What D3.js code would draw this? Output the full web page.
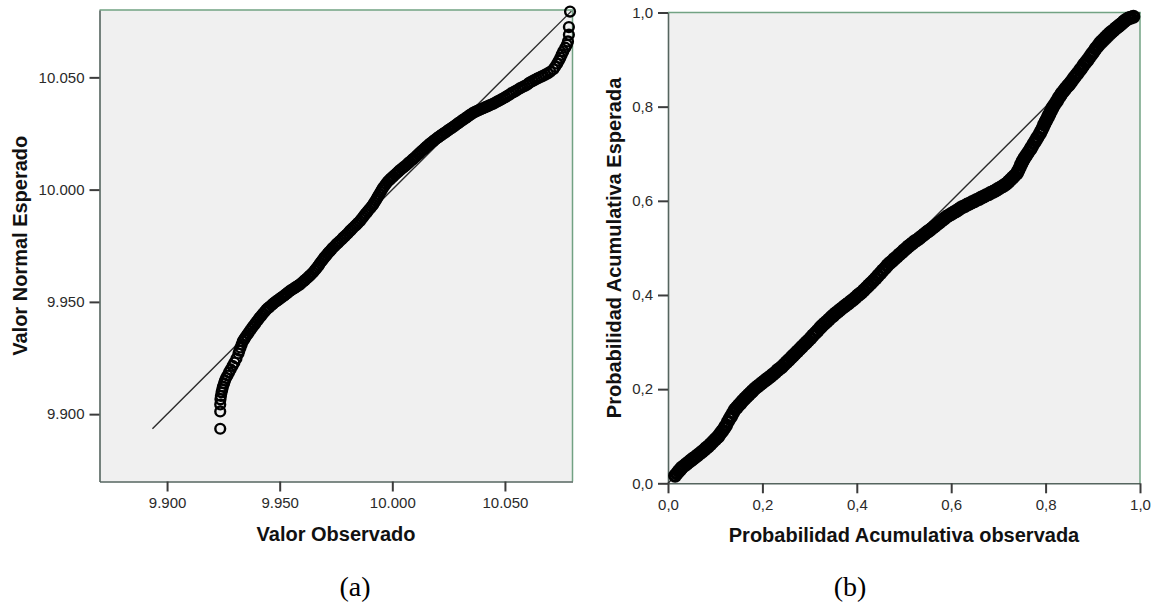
<!DOCTYPE html>
<html><head><meta charset="utf-8">
<script src="https://cdn.jsdelivr.net/npm/d3@7"></script>
<style>body{margin:0;background:#fff} svg{display:block}</style>
</head><body>
<svg id="c" width="1154" height="606"></svg>
<script>
// ---- Data: (a) Normal Q-Q plot : [valor observado, valor normal esperado]
const qqPoints = [
[9.9236,9.8935],[9.9236,9.9012],[9.9236,9.9043],[9.9237,9.9066],[9.9239,9.9081],[9.9242,9.9097],[9.9245,9.9110],[9.9248,9.9123],[9.9253,9.9137],[9.9257,9.9150],[9.9262,9.9161],[9.9268,9.9172],[9.9275,9.9186],[9.9282,9.9199],[9.9291,9.9215],[9.9299,9.9230],[9.9308,9.9248],[9.9317,9.9270],[9.9321,9.9283],[9.9326,9.9297],[9.9331,9.9310],
[9.9336,9.9324],[9.9342,9.9333],[9.9347,9.9341],
[9.9353,9.9350],[9.9360,9.9360],[9.9367,9.9370],[9.9374,9.9380],
[9.9381,9.9390],[9.9389,9.9400],[9.9396,9.9410],[9.9404,9.9420],
[9.9411,9.9430],[9.9419,9.9439],[9.9426,9.9448],[9.9434,9.9457],
[9.9441,9.9466],[9.9448,9.9472],[9.9455,9.9478],[9.9463,9.9485],[9.9470,9.9491],
[9.9477,9.9497],[9.9484,9.9502],[9.9492,9.9508],[9.9499,9.9513],[9.9507,9.9519],
[9.9514,9.9524],[9.9521,9.9529],[9.9528,9.9535],[9.9535,9.9540],[9.9542,9.9546],
[9.9549,9.9551],[9.9557,9.9556],[9.9565,9.9561],[9.9573,9.9567],[9.9581,9.9572],
[9.9589,9.9577],[9.9597,9.9584],[9.9605,9.9591],[9.9612,9.9597],
[9.9620,9.9604],[9.9627,9.9611],[9.9634,9.9617],[9.9641,9.9624],
[9.9648,9.9631],[9.9655,9.9640],[9.9662,9.9648],
[9.9669,9.9657],[9.9675,9.9665],[9.9680,9.9673],[9.9686,9.9681],
[9.9692,9.9689],[9.9699,9.9698],[9.9706,9.9706],
[9.9713,9.9715],[9.9719,9.9722],[9.9725,9.9728],[9.9731,9.9735],
[9.9737,9.9742],[9.9745,9.9749],[9.9752,9.9757],[9.9760,9.9764],
[9.9767,9.9771],[9.9775,9.9778],[9.9782,9.9786],[9.9790,9.9793],
[9.9797,9.9800],[9.9804,9.9807],[9.9811,9.9815],[9.9818,9.9822],
[9.9825,9.9829],[9.9833,9.9837],[9.9841,9.9844],[9.9848,9.9852],
[9.9856,9.9859],[9.9862,9.9868],[9.9869,9.9876],[9.9875,9.9885],
[9.9882,9.9893],[9.9889,9.9901],[9.9895,9.9909],[9.9902,9.9917],[9.9908,9.9925],
[9.9915,9.9933],[9.9920,9.9942],[9.9926,9.9951],[9.9931,9.9960],
[9.9936,9.9969],[9.9942,9.9979],[9.9948,9.9989],[9.9953,9.9998],
[9.9959,10.0008],[9.9966,10.0017],[9.9973,10.0027],
[9.9980,10.0036],[9.9986,10.0042],[9.9992,10.0048],[9.9998,10.0053],
[10.0004,10.0059],[10.0012,10.0066],[10.0019,10.0073],[10.0027,10.0080],
[10.0034,10.0087],[10.0042,10.0093],[10.0049,10.0099],[10.0057,10.0105],
[10.0064,10.0111],[10.0071,10.0118],[10.0078,10.0124],[10.0086,10.0131],
[10.0093,10.0137],[10.0101,10.0144],[10.0108,10.0151],[10.0116,10.0158],
[10.0123,10.0165],[10.0130,10.0172],[10.0138,10.0178],[10.0145,10.0185],[10.0152,10.0192],[10.0160,10.0198],
[10.0167,10.0205],[10.0175,10.0211],[10.0183,10.0217],[10.0190,10.0223],
[10.0198,10.0229],[10.0205,10.0234],[10.0212,10.0239],[10.0219,10.0244],
[10.0226,10.0249],[10.0234,10.0254],[10.0241,10.0259],[10.0249,10.0265],[10.0256,10.0270],[10.0264,10.0275],
[10.0271,10.0280],[10.0278,10.0285],[10.0286,10.0291],[10.0293,10.0296],[10.0300,10.0301],[10.0308,10.0307],
[10.0315,10.0312],[10.0323,10.0317],[10.0330,10.0322],[10.0338,10.0328],[10.0345,10.0333],[10.0353,10.0338],
[10.0360,10.0343],[10.0369,10.0347],[10.0378,10.0351],[10.0386,10.0355],[10.0395,10.0359],
[10.0404,10.0363],[10.0413,10.0367],[10.0422,10.0371],[10.0431,10.0375],[10.0440,10.0379],
[10.0449,10.0383],[10.0458,10.0388],[10.0467,10.0393],[10.0475,10.0397],[10.0484,10.0402],
[10.0493,10.0407],[10.0502,10.0412],[10.0511,10.0418],[10.0520,10.0423],[10.0529,10.0429],
[10.0538,10.0434],[10.0548,10.0440],[10.0558,10.0446],
[10.0568,10.0452],[10.0578,10.0457],[10.0588,10.0462],
[10.0598,10.0467],[10.0605,10.0473],
[10.0612,10.0478],[10.0622,10.0483],[10.0632,10.0489],
[10.0642,10.0494],[10.0651,10.0498],[10.0661,10.0503],[10.0670,10.0507],[10.0679,10.0512],[10.0690,10.0518],[10.0701,10.0525],[10.0715,10.0536],[10.0723,10.0547],[10.0732,10.0561],[10.0739,10.0574],[10.0746,10.0587],[10.0752,10.0601],[10.0759,10.0616],[10.0768,10.0632],[10.0775,10.0645],[10.0780,10.0660],[10.0784,10.0690],[10.0784,10.0724],[10.0789,10.0793]
];
const qqDomain = [9.870, 10.080];
const qqTicks = [9.900, 9.950, 10.000, 10.050];
const qqLineEnds = [9.8935, 10.0795];
const qqLabels = {x: "Valor Observado", y: "Valor Normal Esperado", caption: "(a)"};

// ---- Data: (b) Normal P-P plot : [probabilidad acumulativa observada, esperada]
const ppPoints = [
[0.015,0.016],[0.019,0.021],[0.023,0.026],[0.026,0.029],
[0.029,0.033],[0.034,0.037],[0.039,0.041],[0.044,0.045],[0.049,0.049],[0.053,0.052],
[0.057,0.055],[0.062,0.059],[0.067,0.063],[0.072,0.067],[0.077,0.071],[0.081,0.075],
[0.085,0.078],[0.090,0.083],[0.095,0.088],[0.100,0.093],[0.104,0.097],
[0.107,0.100],[0.111,0.106],[0.115,0.111],
[0.120,0.118],[0.123,0.123],[0.127,0.131],
[0.131,0.138],[0.134,0.143],[0.138,0.150],
[0.142,0.157],[0.146,0.161],[0.150,0.166],[0.154,0.170],[0.158,0.175],
[0.163,0.180],[0.167,0.184],[0.171,0.188],[0.175,0.192],[0.179,0.196],
[0.184,0.201],[0.189,0.205],[0.194,0.209],[0.199,0.213],[0.204,0.217],[0.208,0.220],
[0.212,0.223],[0.217,0.227],[0.222,0.231],[0.227,0.235],[0.232,0.240],[0.236,0.243],
[0.241,0.247],[0.246,0.252],[0.251,0.257],[0.256,0.262],[0.261,0.267],[0.265,0.271],
[0.269,0.275],[0.274,0.280],[0.279,0.285],[0.284,0.290],[0.289,0.295],[0.293,0.299],
[0.297,0.303],[0.302,0.308],[0.307,0.314],[0.312,0.319],[0.317,0.324],[0.322,0.330],
[0.326,0.334],[0.331,0.339],[0.336,0.343],[0.341,0.348],[0.346,0.353],[0.350,0.356],
[0.354,0.360],[0.359,0.364],[0.364,0.368],[0.369,0.372],[0.374,0.376],[0.378,0.379],
[0.382,0.382],[0.387,0.386],[0.392,0.390],[0.397,0.394],[0.402,0.399],[0.406,0.402],
[0.410,0.405],[0.415,0.410],[0.420,0.415],[0.425,0.420],[0.430,0.425],[0.435,0.430],
[0.440,0.435],[0.445,0.441],[0.450,0.446],[0.455,0.452],[0.460,0.457],[0.465,0.463],
[0.470,0.468],[0.475,0.472],[0.480,0.477],[0.485,0.481],[0.490,0.486],[0.495,0.490],[0.500,0.495],[0.505,0.499],[0.509,0.503],
[0.513,0.506],[0.518,0.510],[0.523,0.514],[0.528,0.517],[0.533,0.521],[0.538,0.525],[0.543,0.529],[0.548,0.533],[0.551,0.535],
[0.555,0.538],[0.560,0.542],[0.565,0.546],[0.570,0.550],[0.575,0.554],[0.580,0.558],[0.585,0.562],
[0.590,0.566],[0.595,0.569],[0.600,0.572],[0.605,0.575],[0.610,0.578],[0.615,0.581],
[0.619,0.584],[0.624,0.587],[0.629,0.589],[0.634,0.592],[0.639,0.594],[0.644,0.597],[0.649,0.599],
[0.654,0.602],[0.659,0.604],[0.664,0.607],[0.669,0.609],[0.674,0.612],[0.679,0.614],[0.684,0.617],
[0.689,0.619],[0.694,0.622],[0.699,0.625],[0.704,0.628],[0.709,0.631],[0.714,0.634],
[0.718,0.637],[0.722,0.641],[0.726,0.645],[0.730,0.649],[0.734,0.653],
[0.739,0.658],[0.742,0.664],[0.745,0.670],[0.748,0.677],[0.751,0.683],
[0.753,0.687],[0.756,0.692],[0.760,0.698],[0.764,0.704],[0.768,0.710],
[0.771,0.715],[0.775,0.722],[0.779,0.728],[0.783,0.735],
[0.788,0.743],[0.791,0.749],[0.794,0.755],[0.797,0.762],[0.800,0.768],
[0.802,0.772],[0.805,0.778],[0.808,0.784],[0.811,0.790],[0.814,0.796],
[0.816,0.800],[0.820,0.806],[0.824,0.812],[0.828,0.819],[0.831,0.823],
[0.834,0.828],[0.838,0.833],[0.842,0.838],[0.846,0.843],[0.849,0.846],
[0.852,0.850],[0.856,0.855],[0.860,0.861],[0.864,0.866],[0.868,0.871],
[0.873,0.878],[0.877,0.883],[0.881,0.889],[0.885,0.894],[0.889,0.899],
[0.894,0.906],[0.898,0.912],[0.902,0.917],[0.906,0.923],[0.910,0.928],
[0.915,0.935],[0.919,0.939],[0.923,0.943],[0.927,0.947],[0.931,0.951],
[0.936,0.956],[0.940,0.959],[0.944,0.962],[0.948,0.966],[0.952,0.969],[0.955,0.971],
[0.958,0.974],[0.962,0.977],[0.966,0.981],
[0.970,0.984],[0.975,0.987],[0.980,0.989],[0.986,0.991]
];
const ppDomain = [0, 1];
const ppTicks = [0, 0.2, 0.4, 0.6, 0.8, 1.0];
const ppLineEnds = [0, 1];
const ppLabels = {x: "Probabilidad Acumulativa observada", y: "Probabilidad Acumulativa Esperada", caption: "(b)"};

// ---- Drawing
const svg = d3.select("#c");
svg.append("rect").attr("width", 1154).attr("height", 606).attr("fill", "#fff");

const commaFmt = d3.formatLocale({decimal: ",", thousands: ".", grouping: [3], currency: ["", ""]}).format(".1f");

function drawPanel(cfg) {
  const x = d3.scaleLinear().domain(cfg.domain).range([cfg.left, cfg.right]);
  const y = d3.scaleLinear().domain(cfg.domain).range([cfg.bottom, cfg.top]);
  const g = svg.append("g");

  g.append("rect")
    .attr("x", cfg.left).attr("y", cfg.top)
    .attr("width", cfg.right - cfg.left).attr("height", cfg.bottom - cfg.top)
    .attr("fill", "#f0f0f0");
  g.append("path")
    .attr("d", `M${cfg.left},${cfg.top}H${cfg.right}V${cfg.bottom}`)
    .attr("fill", "none").attr("stroke", "#72a283").attr("stroke-width", 1.5);

  const ax = g.append("g").attr("transform", `translate(0,${cfg.bottom})`)
    .call(d3.axisBottom(x).tickValues(cfg.ticks).tickFormat(cfg.fmt).tickSize(10).tickPadding(6).tickSizeOuter(0));
  const ay = g.append("g").attr("transform", `translate(${cfg.left},0)`)
    .call(d3.axisLeft(y).tickValues(cfg.ticks).tickFormat(cfg.fmt).tickSize(10).tickPadding(5).tickSizeOuter(0));
  [ax, ay].forEach(a => {
    a.select(".domain").attr("stroke", "#55655f").attr("stroke-width", 1.6);
    a.selectAll(".tick line").attr("stroke", "#3c3c3c").attr("stroke-width", 2);
    a.selectAll(".tick text").attr("fill", "#2a2a2a")
      .style("font-family", "'Liberation Sans', Arial, sans-serif").style("font-size", "15px");
  });

  const line = d3.line().x(d => x(d)).y(d => y(d));
  g.append("path").attr("d", line(cfg.lineEnds))
    .attr("fill", "none").attr("stroke", "#2b2b2b").attr("stroke-width", 1.4);

  g.append("g").selectAll("circle").data(cfg.points).join("circle")
    .attr("cx", d => x(d[0])).attr("cy", d => y(d[1]))
    .attr("r", cfg.r).attr("fill", "none")
    .attr("stroke", "#000").attr("stroke-width", cfg.sw);

  g.append("text").attr("x", (cfg.left + cfg.right) / 2).attr("y", cfg.xTitleY)
    .attr("text-anchor", "middle").attr("fill", "#111")
    .style("font-family", "'Liberation Sans', Arial, sans-serif").style("font-size", "20px").style("font-weight", "bold")
    .text(cfg.labels.x);
  g.append("text").attr("transform", `translate(${cfg.yTitleX},${(cfg.top + cfg.bottom) / 2}) rotate(-90)`)
    .attr("text-anchor", "middle").attr("fill", "#111")
    .style("font-family", "'Liberation Sans', Arial, sans-serif").style("font-size", "20px").style("font-weight", "bold")
    .text(cfg.labels.y);
  svg.append("text").attr("x", cfg.captionX).attr("y", 596)
    .attr("text-anchor", "middle").attr("fill", "#000")
    .style("font-family", "'Liberation Serif', 'Times New Roman', serif").style("font-size", "28px")
    .text(cfg.labels.caption);
}

drawPanel({
  domain: qqDomain, ticks: qqTicks, fmt: d3.format(".3f"), points: qqPoints, lineEnds: qqLineEnds,
  labels: qqLabels, left: 99.5, right: 572.5, top: 10, bottom: 481.5,
  r: 4.9, sw: 2.4, xTitleY: 541, yTitleX: 26.5, captionX: 355
});
drawPanel({
  domain: ppDomain, ticks: ppTicks, fmt: commaFmt, points: ppPoints, lineEnds: ppLineEnds,
  labels: ppLabels, left: 668, right: 1140, top: 12.5, bottom: 483.3,
  r: 5.3, sw: 3.4, xTitleY: 542, yTitleX: 621, captionX: 850
});
</script>
</body></html>
